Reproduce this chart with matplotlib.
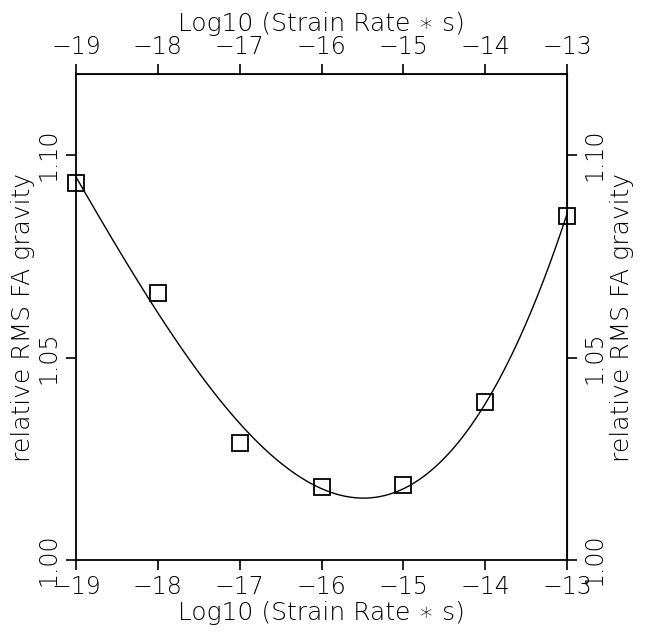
import matplotlib.pyplot as plt
import numpy as np

# log10 strain rate and relative RMS free-air gravity
log_rate = [-19, -18, -17, -16, -15, -14, -13]
rms_grav = [1.093, 1.066, 1.029, 1.018, 1.0185, 1.039, 1.085]
x_ticks = [-19, -18, -17, -16, -15, -14, -13]
y_ticks = [1.00, 1.05, 1.10]

xlab = "Log10 (Strain Rate \u2217 s)"
ylab = "relative RMS FA gravity"

plt.rcParams['font.family'] = ['DejaVu Sans']
plt.rcParams['font.weight'] = 'light'
plt.rcParams['axes.labelweight'] = 'light'
fig = plt.figure(figsize=(6.48, 6.32), dpi=100)
ax = fig.add_axes([0.1173, 0.1139, 0.7577, 0.7690])

# smooth fitted curve through the points
coef = np.polyfit(log_rate, rms_grav, 3)
dom = np.linspace(-19, -13, 400)
ax.plot(dom, np.polyval(coef, dom), 'k-', lw=1.0)
ax.plot(log_rate, rms_grav, 's', ms=11.5, mfc='none', mec='k', mew=1.3, clip_on=False)

ax.set_xlim(-19, -13)
ax.set_ylim(1.00, 1.12)
ax.set_xticks(x_ticks)
ax.set_yticks(y_ticks)
ax.set_yticklabels(['%.2f' % v for v in y_ticks], rotation=90, va='center')
ax.set_xlabel(xlab, fontsize=18, labelpad=1)
ax.set_ylabel(ylab, fontsize=18, labelpad=1)
for sp in ax.spines.values():
    sp.set_linewidth(1.3)
ax.tick_params(direction='out', length=7, width=1.2, labelsize=17, pad=4)

top = ax.secondary_xaxis('top')
top.set_xticks(x_ticks)
top.set_xlabel(xlab, fontsize=18, labelpad=3)
top.tick_params(direction='out', length=7, width=1.2, labelsize=17, pad=4)

right = ax.secondary_yaxis('right')
right.set_yticks(y_ticks)
right.set_yticklabels(['%.2f' % v for v in y_ticks], rotation=90, va='center')
right.set_ylabel(ylab, fontsize=18, labelpad=3)
right.tick_params(direction='out', length=7, width=1.2, labelsize=17, pad=4)

fig.savefig('out.png', dpi=100)
